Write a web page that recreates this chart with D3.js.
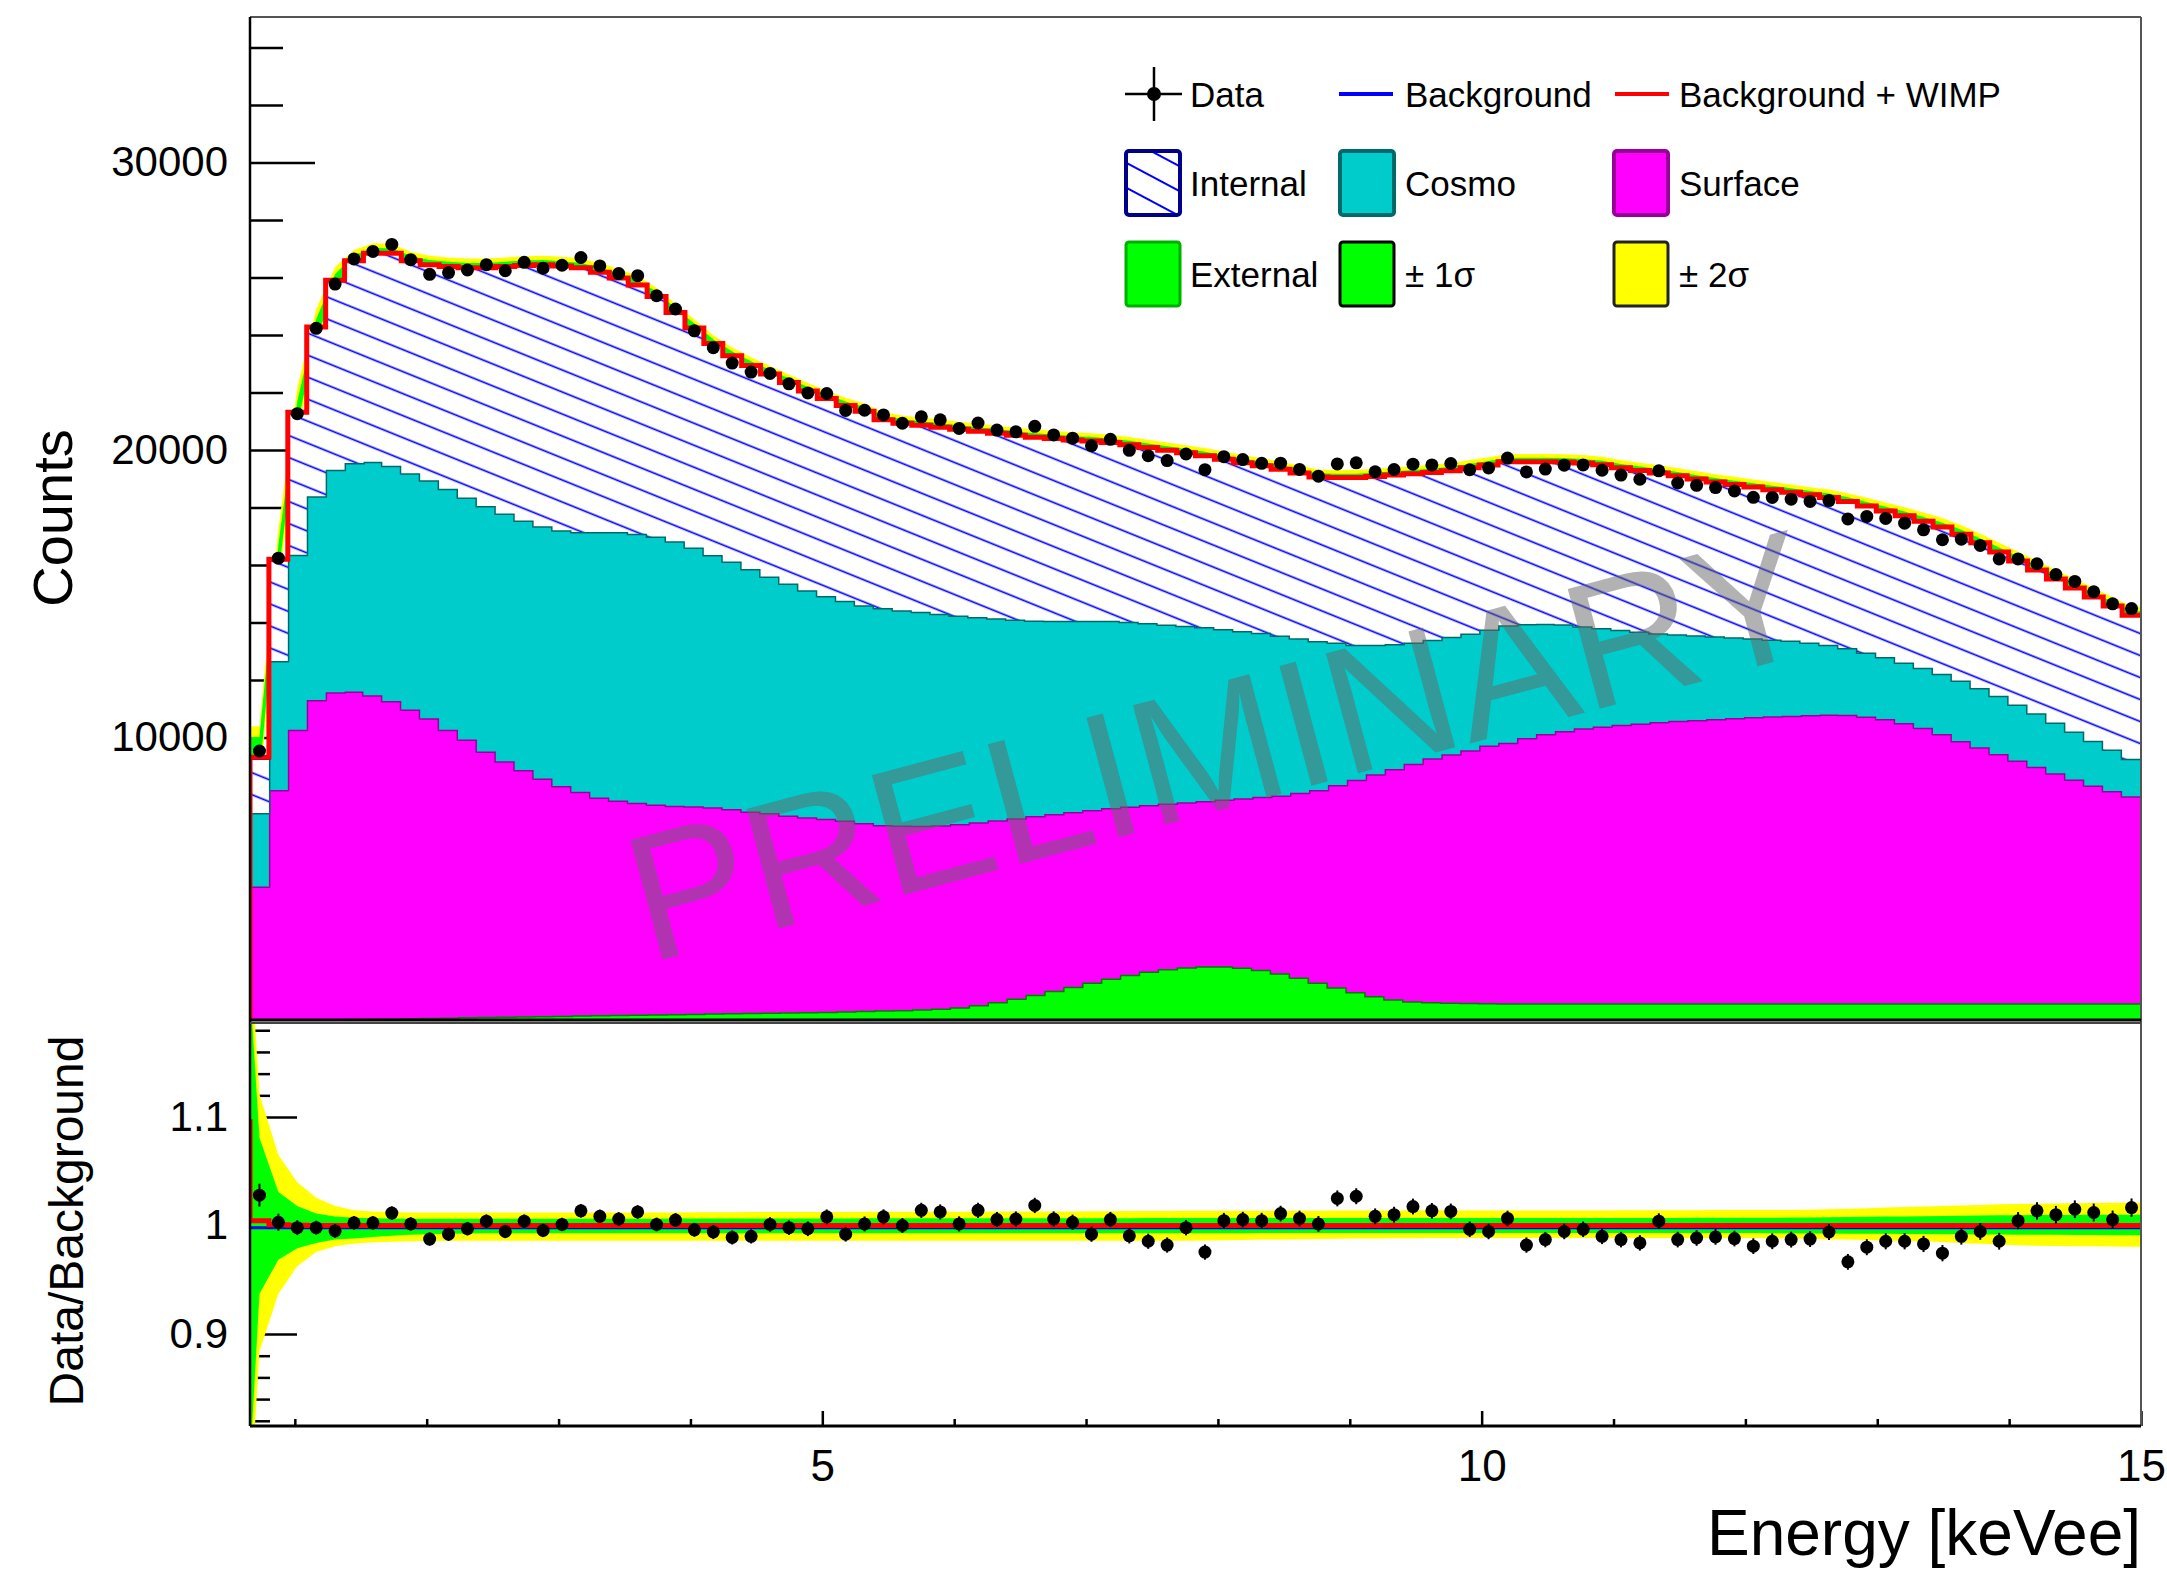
<!DOCTYPE html>
<html>
<head>
<meta charset="utf-8">
<script src="https://cdn.jsdelivr.net/npm/d3@7"></script>
<style>
  body { margin: 0; background: #fff; }
  svg { display: block; }
  text { font-family: "Liberation Sans", Arial, Helvetica, sans-serif; }
</style>
</head>
<body>
<svg id="chart"></svg>
<script>
// binning of the energy axis (keVee)
const xMin = 0.66, xMax = 15, nBins = 100;

// stacked background components, counts per bin
const external = [150,165,180,195,205,215,225,235,245,255, 265,275,285,295,305,315,325,335,345,355,
  365,375,385,395,405,415,425,435,445,455, 465,480,495,510,525,545,575,620,700,800,
  920,1050,1190,1330,1480,1620,1750,1860,1950,2010, 2040,2040,2000,1920,1800,1650,1480,1310,1150,1010,
  900,830,800,780,770,765,760,760,760,760, 760,760,760,760,760,760,760,760,760,760,
  760,760,760,760,760,760,760,760,760,760, 760,760,760,760,760,760,760,760,760,760];
const surface = [4670,8005,10090,11105,11365,11385,11245,11035,10725,10415, 10005,9655,9225,8875,8565,8255,7985,7775,7565,7455,
  7365,7295,7245,7215,7165,7095,7005,6935,6845,6775, 6705,6630,6535,6450,6415,6385,6375,6370,6350,6320,
  6270,6220,6150,6080,6000,5930,5850,5790,5750,5740, 5750,5800,5890,6020,6180,6430,6690,7040,7380,7710,
  8000,8260,8480,8640,8790,8955,9060,9220,9360,9470, 9560,9620,9680,9730,9780,9820,9850,9880,9920,9950,
  9980,10000,10020,10040,10030,9970,9880,9740,9580,9360, 9120,8900,8670,8440,8220,8000,7780,7570,7380,7200];
const cosmo = [2550,4490,6090,7090,7740,7950,8120,8180,8220,8280, 8380,8420,8540,8620,8680,8780,8900,9040,9240,9340,
  9360,9320,9200,9000,8780,8610,8430,8230,8070,7890, 7750,7650,7570,7540,7490,7440,7350,7250,7140,7030,
  6910,6800,6720,6650,6580,6510,6430,6330,6230,6140, 6050,5930,5810,5700,5570,5370,5190,4950,4700,4510,
  4350,4210,4120,4080,4060,4040,4080,3970,3840,3710, 3550,3430,3310,3200,3090,3010,2950,2880,2810,2740,
  2670,2610,2520,2430,2320,2230,2160,2110,2090,2100, 2100,2060,2020,1950,1860,1760,1670,1560,1440,1300];
const internal = [1900,3530,4945,5890,6590,7030,7250,7390,7390,7490, 7730,7990,8290,8590,8870,9090,9190,9190,9030,8830,
  8650,8350,7950,7630,7350,7160,7080,7040,6985,6930, 6870,6790,6750,6550,6500,6490,6490,6480,6460,6430,
  6410,6375,6340,6290,6250,6200,6150,6110,6060,6010, 5960,5910,5860,5810,5780,5750,5700,5740,5810,5850,
  5880,5870,5820,5780,5760,5720,5690,5640,5630,5640, 5680,5680,5630,5600,5570,5510,5430,5370,5310,5260,
  5210,5160,5140,5120,5100,5090,5080,5100,5090,5100, 5090,5050,5000,4990,4990,4990,4990,5000,4990,4990];
// WIMP signal on top of background (only the lowest bins are non zero)
const wimp = [40, 12, 5];
// (background + WIMP) / background right at threshold
const wimpRatioThreshold = 1.098;

// data / background
const ratio = [1.028,1.003,0.998,0.998,0.995,1.0025,1.0025,1.0115,1.0015,0.9875,
  0.992,0.997,1.004,0.9945,1.004,0.9955,1.001,1.0135,1.0085,1.006,
  1.0125,1.001,1.005,0.996,0.994,0.989,0.990,1.001,0.998,0.997,
  1.008,0.992,1.0015,1.008,1.000,1.014,1.0125,1.0015,1.014,1.0055,
  1.006,1.0185,1.006,1.003,0.992,1.0055,0.9905,0.9855,0.982,0.998,
  0.9755,1.0045,1.0055,1.0045,1.011,1.0065,1.0015,1.025,1.027,1.0085,
  1.010,1.0175,1.0135,1.013,0.9965,0.9945,1.0065,0.982,0.987,0.9945,
  0.9965,0.990,0.987,0.984,1.004,0.987,0.9885,0.9895,0.988,0.981,
  0.9855,0.987,0.9875,0.994,0.9665,0.980,0.9855,0.9855,0.983,0.9745,
  0.990,0.9945,0.9855,1.0045,1.0135,1.010,1.015,1.012,1.0055,1.0165];

// background uncertainty bands, percent of background (up / down)
const sig1Up = [8.1,3.1,1.8,1.1,0.84,0.72,0.68,0.65,0.63,0.63, 0.63,0.63,0.63,0.63,0.63,0.63,0.63,0.63,0.63,0.63,
  0.63,0.63,0.64,0.64,0.64,0.64,0.64,0.65,0.65,0.65, 0.65,0.65,0.66,0.66,0.66,0.66,0.66,0.67,0.67,0.67,
  0.67,0.67,0.68,0.68,0.68,0.68,0.68,0.69,0.69,0.69, 0.69,0.69,0.7,0.7,0.7,0.7,0.7,0.7,0.7,0.7,
  0.7,0.7,0.7,0.7,0.7,0.7,0.7,0.7,0.7,0.7, 0.7,0.7,0.7,0.7,0.7,0.7,0.71,0.71,0.71,0.72,
  0.72,0.73,0.74,0.76,0.78,0.8,0.82,0.84,0.86,0.88, 0.9,0.92,0.94,0.95,0.96,0.97,0.98,0.99,1.0,1.0];
const sig1Dn = [6.3,3.15,2.1,1.6,1.3,1.2,1.05,0.95,0.85,0.8, 0.76,0.74,0.72,0.72,0.72,0.72,0.72,0.72,0.72,0.72,
  0.72,0.72,0.72,0.72,0.72,0.72,0.72,0.72,0.72,0.72, 0.72,0.72,0.72,0.72,0.72,0.72,0.72,0.72,0.72,0.72,
  0.72,0.72,0.72,0.72,0.72,0.72,0.72,0.72,0.72,0.72, 0.71,0.71,0.71,0.7,0.7,0.7,0.7,0.7,0.7,0.7,
  0.7,0.7,0.7,0.7,0.7,0.7,0.7,0.7,0.7,0.7, 0.7,0.7,0.7,0.7,0.7,0.7,0.7,0.7,0.7,0.7,
  0.71,0.72,0.73,0.74,0.75,0.76,0.77,0.78,0.79,0.8, 0.81,0.82,0.83,0.84,0.85,0.86,0.87,0.88,0.89,0.9];
const sig2Up = [12.1,6.5,4.0,2.55,1.8,1.4,1.3,1.25,1.2,1.2, 1.2,1.2,1.2,1.2,1.2,1.2,1.2,1.2,1.2,1.2,
  1.2,1.2,1.2,1.22,1.22,1.22,1.24,1.24,1.24,1.25, 1.25,1.25,1.26,1.26,1.27,1.27,1.28,1.28,1.29,1.29,
  1.3,1.3,1.3,1.3,1.32,1.32,1.33,1.33,1.34,1.35, 1.35,1.36,1.36,1.36,1.37,1.37,1.37,1.38,1.38,1.38,
  1.38,1.38,1.38,1.38,1.38,1.38,1.38,1.38,1.39,1.39, 1.39,1.39,1.4,1.4,1.4,1.41,1.41,1.42,1.42,1.43,
  1.43,1.44,1.45,1.5,1.55,1.6,1.65,1.7,1.75,1.8, 1.85,1.9,1.95,1.98,2.0,2.03,2.05,2.07,2.09,2.1];
const sig2Dn = [11.6,6.3,3.75,2.45,1.9,1.65,1.55,1.5,1.45,1.42, 1.4,1.4,1.4,1.4,1.4,1.4,1.4,1.4,1.4,1.4,
  1.4,1.4,1.4,1.4,1.4,1.4,1.4,1.4,1.4,1.4, 1.4,1.4,1.4,1.4,1.4,1.4,1.4,1.4,1.4,1.4,
  1.4,1.4,1.4,1.4,1.4,1.4,1.4,1.4,1.4,1.4, 1.38,1.35,1.33,1.3,1.28,1.26,1.24,1.22,1.2,1.19,
  1.18,1.17,1.16,1.15,1.15,1.15,1.15,1.15,1.15,1.15, 1.15,1.15,1.15,1.15,1.15,1.15,1.15,1.15,1.15,1.15,
  1.17,1.2,1.22,1.26,1.3,1.34,1.38,1.42,1.46,1.52, 1.6,1.68,1.76,1.82,1.86,1.88,1.9,1.92,1.94,1.95];
// band half widths (percent) right at threshold, where they run off the ratio panel
const sigThreshold = { s1Up: 22, s1Dn: 22, s2Up: 26, s2Dn: 26 };

// axis ticks
const countTicks = [10000, 20000, 30000];
const countMinor = [2000,4000,6000,8000,12000,14000,16000,18000,22000,24000,26000,28000,32000,34000];
const ratioTicks = [0.9, 1, 1.1];
const ratioMinor = [0.82,0.84,0.86,0.88,0.92,0.94,0.96,0.98,1.02,1.04,1.06,1.08,1.12,1.14,1.16,1.18];
const energyTicks = [5, 10, 15];
const energyMinor = [1,2,3,4,6,7,8,9,11,12,13,14];

const W = 2167, H = 1573;
const plotL = 250, plotR = 2141;
const topT = 17, topB = 1020, ratT = 1022, ratB = 1426;

const svg = d3.select('#chart').attr('width', W).attr('height', H);

const x = d3.scaleLinear().domain([xMin, xMax]).range([plotL, plotR]);
const y = d3.scaleLinear().domain([174, 35060]).range([topB, topT]);
const yr = d3.scaleLinear().domain([0.8152, 1.1876]).range([ratB, ratT]);

const binW = (xMax - xMin) / nBins;
const edges = d3.range(nBins + 1).map(k => xMin + k * binW);
const centers = d3.range(nBins).map(i => xMin + (i + 0.5) * binW);

const rows = d3.range(nBins).map(i => ({
  external: external[i], surface: surface[i], cosmo: cosmo[i], internal: internal[i]
}));
const layers = d3.stack().keys(['external', 'surface', 'cosmo', 'internal'])(rows);
const bkg = layers[3].map(d => d[1]);
const bkgWimp = bkg.map((b, i) => b + (wimp[i] || 0));
const dataCounts = bkg.map((b, i) => b * ratio[i]);

// defs: clip paths + hatch
const defs = svg.append('defs');
defs.append('clipPath').attr('id', 'clipTop')
  .append('rect').attr('x', plotL).attr('y', topT).attr('width', plotR - plotL).attr('height', topB - topT);
defs.append('clipPath').attr('id', 'clipRat')
  .append('rect').attr('x', plotL).attr('y', ratT).attr('width', plotR - plotL).attr('height', ratB - ratT);
const hatch = defs.append('pattern').attr('id', 'hatch')
  .attr('patternUnits', 'userSpaceOnUse').attr('width', 80).attr('height', 20.4)
  .attr('patternTransform', 'rotate(22)');
hatch.append('rect').attr('width', 80).attr('height', 20.4).attr('fill', '#fff');
hatch.append('line').attr('x1', 0).attr('x2', 80).attr('y1', 10).attr('y2', 10)
  .attr('stroke', '#0000ff').attr('stroke-width', 1.7);
const hatchL = defs.append('pattern').attr('id', 'hatchLeg')
  .attr('patternUnits', 'userSpaceOnUse').attr('width', 80).attr('height', 22)
  .attr('patternTransform', 'rotate(28)');
hatchL.append('rect').attr('width', 80).attr('height', 22).attr('fill', '#fff');
hatchL.append('line').attr('x1', 0).attr('x2', 80).attr('y1', 11).attr('y2', 11)
  .attr('stroke', '#0000ff').attr('stroke-width', 2);

// ---------- axes (drawn first, under the fills) ----------
function styleAxis(g, size) {
  g.selectAll('line').attr('stroke', '#000').attr('stroke-width', 2.5);
  g.selectAll('text').attr('font-family', '"Liberation Sans", Arial, sans-serif')
    .attr('font-size', size).attr('fill', '#000');
  g.select('.domain').remove();
}
svg.append('g').attr('transform', `translate(${plotL},0)`)
  .call(d3.axisLeft(y).tickValues(countMinor).tickSize(-33).tickSizeOuter(0).tickFormat(''))
  .call(g => styleAxis(g, 42));
svg.append('g').attr('transform', `translate(${plotL},0)`)
  .call(d3.axisLeft(y).tickValues(countTicks).tickSize(-65).tickSizeOuter(0).tickPadding(22).tickFormat(d3.format('d')))
  .call(g => styleAxis(g, 42));
svg.append('g').attr('transform', `translate(${plotL},0)`)
  .call(d3.axisLeft(yr).tickValues(ratioMinor).tickSize(-20).tickSizeOuter(0).tickFormat(''))
  .call(g => styleAxis(g, 42));
svg.append('g').attr('transform', `translate(${plotL},0)`)
  .call(d3.axisLeft(yr).tickValues(ratioTicks).tickSize(-47).tickSizeOuter(0).tickPadding(22).tickFormat(d => d3.format('~g')(d)))
  .call(g => styleAxis(g, 42));
svg.append('g').attr('transform', `translate(0,${ratB})`)
  .call(d3.axisBottom(x).tickValues(energyMinor).tickSize(-7).tickSizeOuter(0).tickFormat(''))
  .call(g => styleAxis(g, 44));
svg.append('g').attr('transform', `translate(0,${ratB})`)
  .call(d3.axisBottom(x).tickValues(energyTicks).tickSize(-15).tickSizeOuter(0).tickPadding(24).tickFormat(d3.format('d')))
  .call(g => styleAxis(g, 44));

// ---------- top panel ----------
const topG = svg.append('g').attr('clip-path', 'url(#clipTop)');

// uncertainty bands through bin centres
function bandPts(lo, hi, base, edgeLo, edgeHi) {
  const pts = centers.map((c, i) => ({ x: c, lo: base(i) * (1 - lo[i] / 100), hi: base(i) * (1 + hi[i] / 100) }));
  if (edgeLo !== undefined) {
    pts.unshift({ x: xMin, lo: base(0) * (1 - edgeLo / 100), hi: base(0) * (1 + edgeHi / 100) });
  } else {
    pts.unshift({ x: xMin, lo: pts[0].lo, hi: pts[0].hi });
  }
  pts.push({ x: xMax, lo: pts[nBins].lo, hi: pts[nBins].hi });
  return pts;
}
const bandTop = d3.area().x(d => x(d.x)).y0(d => y(d.lo)).y1(d => y(d.hi));
topG.append('path').datum(bandPts(sig2Dn, sig2Up, i => bkg[i])).attr('d', bandTop).attr('fill', '#ffff00');
topG.append('path').datum(bandPts(sig1Dn, sig1Up, i => bkg[i])).attr('d', bandTop).attr('fill', '#00ff00');

// stacked step histograms
function stepPts(layer) {
  const pts = layer.map((d, i) => ({ x: edges[i], y0: d[0], y1: d[1] }));
  pts.push({ x: edges[nBins], y0: pts[nBins - 1].y0, y1: pts[nBins - 1].y1 });
  return pts;
}
const areaStep = d3.area().curve(d3.curveStepAfter).x(d => x(d.x)).y0(d => y(d.y0)).y1(d => y(d.y1));
const lineStep = d3.line().curve(d3.curveStepAfter).x(d => x(d.x)).y(d => y(d.y1));
const fills = ['#00ff00', '#ff00ff', '#00cccc', 'url(#hatch)'];
const edgesCol = ['#007f00', '#990099', '#006a6a', '#0000ff'];
layers.forEach((layer, li) => {
  const pts = stepPts(layer);
  topG.append('path').datum(pts).attr('d', areaStep).attr('fill', fills[li]);
  if (li < 3) {
    topG.append('path').datum(pts).attr('d', lineStep)
      .attr('fill', 'none').attr('stroke', edgesCol[li]).attr('stroke-width', 3);
  }
});

// total background (blue) and background + WIMP (red)
function histPts(vals) {
  const pts = vals.map((v, i) => ({ x: edges[i], y1: v }));
  pts.push({ x: edges[nBins], y1: vals[nBins - 1] });
  return pts;
}
topG.append('path').datum(histPts(bkg)).attr('d', lineStep)
  .attr('fill', 'none').attr('stroke', '#0000ff').attr('stroke-width', 3);
topG.append('path').datum(histPts(bkgWimp))
  .attr('d', d => `M${x(xMin)},${topB}` + lineStep(d).replace(/^M/, 'L'))
  .attr('fill', 'none').attr('stroke', '#ff0000').attr('stroke-width', 5);

// watermark
svg.append('text')
  .attr('transform', 'translate(1236,806) rotate(-15)')
  .attr('text-anchor', 'middle')
  .attr('font-size', 180)
  .attr('fill', '#666666').attr('fill-opacity', 0.5)
  .text('PRELIMINARY');

// data points
const pointsTop = topG.append('g');
pointsTop.selectAll('line').data(dataCounts).join('line')
  .attr('x1', (d, i) => x(centers[i])).attr('x2', (d, i) => x(centers[i]))
  .attr('y1', d => y(d - Math.sqrt(d))).attr('y2', d => y(d + Math.sqrt(d)))
  .attr('stroke', '#000').attr('stroke-width', 2);
pointsTop.selectAll('circle').data(dataCounts).join('circle')
  .attr('cx', (d, i) => x(centers[i])).attr('cy', d => y(d)).attr('r', 6.5).attr('fill', '#000');

// ---------- ratio panel ----------
const ratG = svg.append('g').attr('clip-path', 'url(#clipRat)');
const bandRat = d3.area().x(d => x(d.x)).y0(d => yr(d.lo)).y1(d => yr(d.hi));
ratG.append('path').datum(bandPts(sig2Dn, sig2Up, () => 1, sigThreshold.s2Dn, sigThreshold.s2Up))
  .attr('d', bandRat).attr('fill', '#ffff00');
ratG.append('path').datum(bandPts(sig1Dn, sig1Up, () => 1, sigThreshold.s1Dn, sigThreshold.s1Up))
  .attr('d', bandRat).attr('fill', '#00ff00');

ratG.append('line').attr('x1', plotL).attr('x2', plotR).attr('y1', yr(0.998)).attr('y2', yr(0.998))
  .attr('stroke', '#0000ff').attr('stroke-width', 3);
const sigRatio = bkgWimp.map((v, i) => v / bkg[i]);
const ratPts = sigRatio.map((v, i) => ({ x: edges[i + 1], v }));
ratPts.unshift({ x: xMin, v: wimpRatioThreshold });
ratG.append('path').datum(ratPts)
  .attr('d', d3.line().curve(d3.curveStepBefore).x(d => x(d.x)).y(d => yr(d.v)))
  .attr('fill', 'none').attr('stroke', '#ff0000').attr('stroke-width', 5);

const pointsRat = ratG.append('g');
pointsRat.selectAll('line').data(ratio).join('line')
  .attr('x1', (d, i) => x(centers[i])).attr('x2', (d, i) => x(centers[i]))
  .attr('y1', (d, i) => yr(d - Math.sqrt(dataCounts[i]) / bkg[i]))
  .attr('y2', (d, i) => yr(d + Math.sqrt(dataCounts[i]) / bkg[i]))
  .attr('stroke', '#000').attr('stroke-width', 2);
pointsRat.selectAll('circle').data(ratio).join('circle')
  .attr('cx', (d, i) => x(centers[i])).attr('cy', d => yr(d)).attr('r', 6.5).attr('fill', '#000');

// ---------- frames ----------
const frame = svg.append('g');
frame.append('line').attr('x1', plotL).attr('x2', plotR).attr('y1', topT).attr('y2', topT).attr('stroke', '#555').attr('stroke-width', 2);
frame.append('line').attr('x1', plotR).attr('x2', plotR).attr('y1', topT).attr('y2', ratB).attr('stroke', '#555').attr('stroke-width', 2);
frame.append('line').attr('x1', plotL).attr('x2', plotL).attr('y1', topT).attr('y2', ratB).attr('stroke', '#000').attr('stroke-width', 2.5);
frame.append('line').attr('x1', plotL).attr('x2', plotR).attr('y1', topB).attr('y2', topB).attr('stroke', '#000').attr('stroke-width', 3);
frame.append('line').attr('x1', plotL).attr('x2', plotR).attr('y1', ratT + 1).attr('y2', ratT + 1).attr('stroke', '#444').attr('stroke-width', 2);
frame.append('line').attr('x1', plotL).attr('x2', plotR).attr('y1', ratB).attr('y2', ratB).attr('stroke', '#000').attr('stroke-width', 3);

// ---------- axis titles ----------
svg.append('text').attr('transform', 'translate(72,518) rotate(-90)')
  .attr('text-anchor', 'middle').attr('font-size', 56).text('Counts');
svg.append('text').attr('transform', 'translate(83,1221) rotate(-90)')
  .attr('text-anchor', 'middle').attr('font-size', 48).text('Data/Background');
svg.append('text').attr('x', plotR).attr('y', 1555)
  .attr('text-anchor', 'end').attr('font-size', 64).text('Energy [keVee]');

// ---------- legend ----------
const leg = svg.append('g').attr('font-size', 35);
const rowY = [94, 183, 274];
const colX = [1125, 1339, 1613];
const textX = [1190, 1405, 1679];
// Data
leg.append('line').attr('x1', 1125).attr('x2', 1182).attr('y1', rowY[0]).attr('y2', rowY[0]).attr('stroke', '#000').attr('stroke-width', 2.5);
leg.append('line').attr('x1', 1154).attr('x2', 1154).attr('y1', rowY[0] - 27).attr('y2', rowY[0] + 27).attr('stroke', '#000').attr('stroke-width', 2.5);
leg.append('circle').attr('cx', 1154).attr('cy', rowY[0]).attr('r', 7).attr('fill', '#000');
leg.append('line').attr('x1', colX[1]).attr('x2', colX[1] + 54).attr('y1', rowY[0]).attr('y2', rowY[0]).attr('stroke', '#0000ff').attr('stroke-width', 4);
leg.append('line').attr('x1', colX[2] + 2).attr('x2', colX[2] + 56).attr('y1', rowY[0]).attr('y2', rowY[0]).attr('stroke', '#ff0000').attr('stroke-width', 4);
const legTexts = [
  ['Data', 'Background', 'Background + WIMP'],
  ['Internal', 'Cosmo', 'Surface'],
  ['External', '\u00b1 1\u03c3', '\u00b1 2\u03c3']
];
const boxStyle = [
  [['url(#hatchLeg)', '#00008b', 4], ['#00cccc', '#006a6a', 4], ['#ff00ff', '#990099', 4]],
  [['#00ff00', '#00b000', 3], ['#00ff00', '#000', 3], ['#ffff00', '#222', 3]]
];
legTexts.forEach((row, r) => row.forEach((t, c) => {
  leg.append('text').attr('x', textX[c]).attr('y', rowY[r] + 12.5).text(t);
}));
boxStyle.forEach((row, r) => row.forEach((s, c) => {
  leg.append('rect').attr('x', colX[c] + 1).attr('y', rowY[r + 1] - 32).attr('width', 54).attr('height', 64)
    .attr('rx', 3).attr('fill', s[0]).attr('stroke', s[1]).attr('stroke-width', s[2]);
}));
</script>
</body>
</html>
